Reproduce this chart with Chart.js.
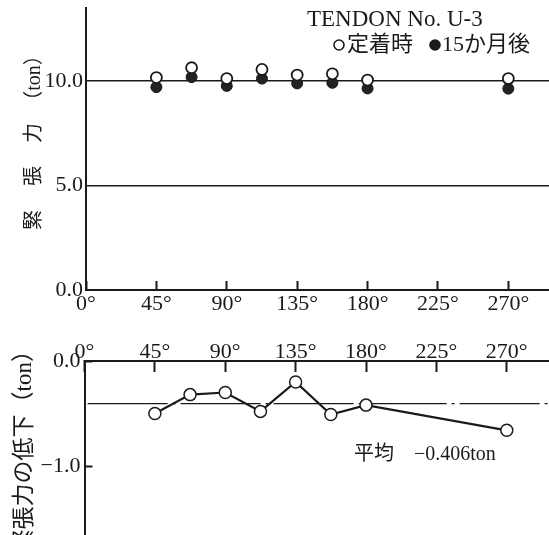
<!DOCTYPE html>
<html>
<head>
<meta charset="utf-8">
<script src="https://cdn.jsdelivr.net/npm/chart.js@4.4.1/dist/chart.umd.min.js"></script>
<style>
  html, body { margin: 0; padding: 0; background: #fff; }
  #wrap { position: relative; width: 549px; height: 535px; overflow: hidden; background: #fff; }
  canvas { position: absolute; left: 0; }
  #forceChart { top: 0; }
  #lossChart { top: 325px; }
</style>
</head>
<body>
<div id="wrap">
  <canvas id="forceChart" width="549" height="325"></canvas>
  <canvas id="lossChart" width="549" height="210"></canvas>
</div>
<script>
// Tendon U-3: tension at each measuring angle, at anchoring and after 15 months
const angles = [45, 67.5, 90, 112.5, 135, 157.5, 180, 270];
const forceAtAnchoring = [10.17, 10.64, 10.12, 10.56, 10.29, 10.35, 10.05, 10.12];
const forceAfter15Months = [9.71, 10.19, 9.77, 10.12, 9.89, 9.92, 9.65, 9.64];
// loss of tension (ton) and its average
const forceLoss = [-0.50, -0.32, -0.30, -0.48, -0.20, -0.51, -0.42, -0.66];
const meanLoss = -0.406;
// tick values
const angleTicks = [0, 45, 90, 135, 180, 225, 270];
const forceTicks = [0, 5, 10];
const lossTicks = [-1, 0];

const INK = '#1a1a1a';
const FONT = "'Liberation Serif', 'Noto Sans CJK JP', serif";

Chart.defaults.animation = false;
Chart.defaults.responsive = false;
Chart.defaults.devicePixelRatio = 1;
Chart.defaults.color = INK;
Chart.defaults.font.family = FONT;

const tickList = vals => scale => { scale.ticks = vals.map(v => ({ value: v })); };
const fmtNum = v => Number(v).toFixed(1).replace('-', '\u2212');
// fixed axis box size, without the extra room reserved for edge labels
const fixBox = (w, h) => s => {
  if (w !== null) s.width = w;
  if (h !== null) s.height = h;
  s.paddingTop = s.paddingBottom = s.paddingLeft = s.paddingRight = 0;
};

// captions of the upper panel
const forceText = {
  id: 'forceText',
  afterDraw(chart) {
    const ctx = chart.ctx;
    ctx.save();
    ctx.fillStyle = INK;
    ctx.textAlign = 'center';
    ctx.textBaseline = 'middle';
    ctx.font = '20px ' + FONT;
    [['緊', 220], ['張', 176], ['力', 133], ['（ton）', 78]].forEach(([t, y]) => {
      ctx.save();
      ctx.translate(35, y);
      ctx.rotate(-Math.PI / 2);
      ctx.fillText(t, 0, 0);
      ctx.restore();
    });

    ctx.textAlign = 'left';
    ctx.textBaseline = 'alphabetic';
    ctx.font = '23px ' + FONT;
    ctx.fillText('TENDON No. U-3', 307, 26);

    ctx.textBaseline = 'middle';
    ctx.font = '22px ' + FONT;
    ctx.lineWidth = 1.6;
    ctx.strokeStyle = INK;
    ctx.beginPath(); ctx.arc(339, 45, 5, 0, Math.PI * 2);
    ctx.fillStyle = '#fff'; ctx.fill(); ctx.stroke();
    ctx.fillStyle = INK;
    ctx.fillText(chart.data.datasets[0].label, 347, 45);
    ctx.beginPath(); ctx.arc(435, 45, 5, 0, Math.PI * 2);
    ctx.fill(); ctx.stroke();
    ctx.fillText(chart.data.datasets[1].label, 442, 45);
    ctx.restore();
  }
};

// captions of the lower panel
const lossText = {
  id: 'lossText',
  afterDraw(chart) {
    const ctx = chart.ctx;
    ctx.save();
    ctx.fillStyle = INK;
    ctx.font = '23px ' + FONT;
    ctx.textBaseline = 'middle';
    ctx.save();
    ctx.translate(25, 14);
    ctx.rotate(-Math.PI / 2);
    ctx.textAlign = 'right';
    ctx.fillText('緊張力の低下（ton）', 0, 0);
    ctx.restore();

    ctx.font = '20px ' + FONT;
    ctx.textAlign = 'left';
    ctx.fillText('平均　' + String(meanLoss).replace('-', '\u2212') + 'ton', 354, 130);
    ctx.restore();
  }
};

new Chart(document.getElementById('forceChart'), {
  type: 'scatter',
  data: {
    datasets: [
      {
        label: '定着時',
        data: angles.map((a, i) => ({ x: a, y: forceAtAnchoring[i] })),
        pointRadius: 5.5,
        pointBorderWidth: 1.8,
        pointBackgroundColor: '#fff',
        pointBorderColor: INK
      },
      {
        label: '15か月後',
        data: angles.map((a, i) => ({ x: a, y: forceAfter15Months[i] })),
        pointRadius: 5.5,
        pointBorderWidth: 1,
        pointBackgroundColor: '#222',
        pointBorderColor: INK
      }
    ]
  },
  options: {
    layout: { autoPadding: false, padding: { top: 8, left: 0, right: 0, bottom: 0 } },
    plugins: { legend: { display: false }, tooltip: { enabled: false } },
    scales: {
      x: {
        type: 'linear', position: 'bottom', min: 0, max: 296,
        afterBuildTicks: tickList(angleTicks),
        afterFit: fixBox(null, 35),
        grid: { drawOnChartArea: false, drawTicks: true, tickLength: -9, tickWidth: 2, tickColor: INK },
        border: { display: true, color: INK, width: 2 },
        ticks: { padding: 10, autoSkip: false, maxRotation: 0, font: { size: 22 }, callback: v => v + '°' }
      },
      y: {
        min: 0, max: 13.5,
        afterBuildTicks: tickList(forceTicks),
        afterFit: fixBox(86, null),
        grid: {
          drawOnChartArea: true, drawTicks: false, lineWidth: 1.5,
          color: c => (c.tick && c.tick.value !== 0) ? INK : 'rgba(0,0,0,0)'
        },
        border: { display: true, color: INK, width: 2 },
        ticks: { padding: 3, font: { size: 22 }, callback: fmtNum }
      }
    }
  },
  plugins: [forceText]
});

new Chart(document.getElementById('lossChart'), {
  type: 'line',
  data: {
    datasets: [
      {
        label: '緊張力の低下',
        data: angles.map((a, i) => ({ x: a, y: forceLoss[i] })),
        borderColor: INK,
        borderWidth: 2.2,
        tension: 0,
        pointRadius: 6,
        pointBorderWidth: 1.5,
        pointBackgroundColor: '#fff',
        pointBorderColor: INK
      },
      {
        label: '平均',
        data: [{ x: 2, y: meanLoss }, { x: 297, y: meanLoss }],
        borderColor: INK,
        borderWidth: 1.4,
        borderDash: [80, 5, 3, 5],
        pointRadius: 0
      }
    ]
  },
  options: {
    layout: { autoPadding: false, padding: 0 },
    plugins: { legend: { display: false }, tooltip: { enabled: false } },
    scales: {
      x: {
        type: 'linear', position: 'top', min: 0, max: 297,
        afterBuildTicks: tickList(angleTicks),
        afterFit: fixBox(null, 36),
        grid: { drawOnChartArea: false, drawTicks: true, tickLength: -11, tickWidth: 2, tickColor: INK },
        border: { display: true, color: INK, width: 2 },
        ticks: { padding: 7, autoSkip: false, maxRotation: 0, font: { size: 22 }, callback: v => v + '°' }
      },
      y: {
        min: -1.657, max: 0,
        afterBuildTicks: tickList(lossTicks),
        afterFit: fixBox(84.5, null),
        grid: { drawOnChartArea: false, drawTicks: true, tickLength: -8, tickWidth: 2, tickColor: INK },
        border: { display: true, color: INK, width: 2 },
        ticks: { padding: 12, font: { size: 22 }, callback: fmtNum }
      }
    }
  },
  plugins: [lossText]
});
</script>
</body>
</html>
